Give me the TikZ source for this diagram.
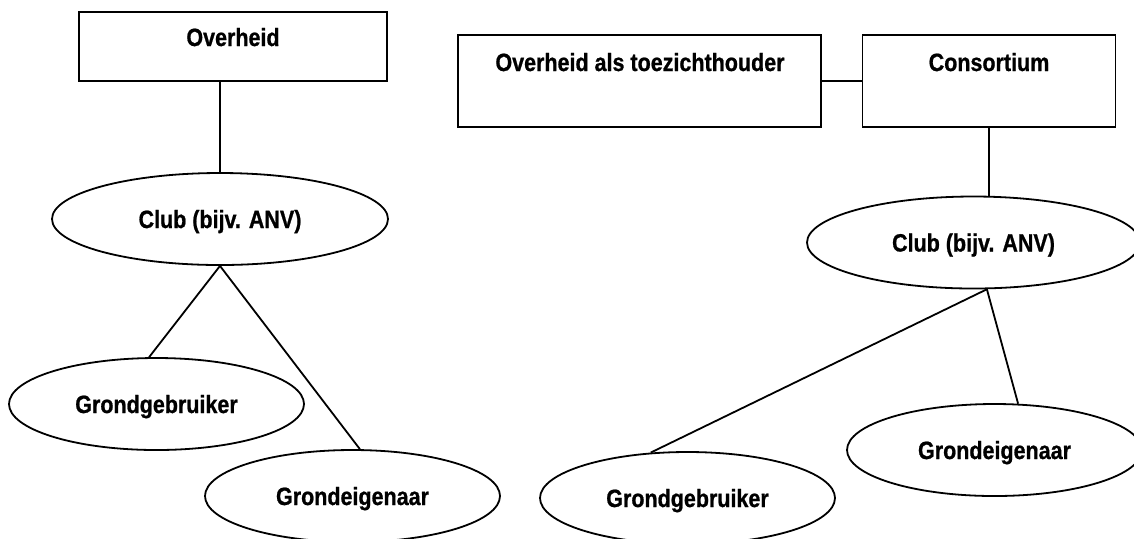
\documentclass[tikz,border=0pt]{standalone}
\usepackage{fontspec}
\setmainfont{Liberation Sans}[FakeStretch=0.86, BoldFeatures={FakeBold=0.8}]
\usetikzlibrary{shapes.geometric}
\begin{document}
\begin{tikzpicture}[x=0.5pt,y=-0.5pt,
  box/.style={draw, line width=0.9pt, rectangle, inner sep=0pt, minimum height=46pt},
  oval/.style={draw, line width=0.9pt, ellipse, inner sep=0pt, minimum height=46pt, minimum width=147.5pt, font=\fontsize{12.5pt}{15pt}\bfseries, text height=9pt, text depth=0pt},
  lbl/.style={font=\fontsize{12.5pt}{15pt}\bfseries, inner sep=0pt, anchor=base},
  link/.style={line width=0.9pt}]
\useasboundingbox (0,0) rectangle (1134,538);
% left diagram
\node[box, minimum width=154pt, minimum height=34.5pt] (ov) at (233,46.5) {};
\node[lbl] (ovtxt) at (233,46) {Overheid};
\node[oval, minimum width=168pt] (club1) at (220,219) {Club (bijv. ANV)};
\node[oval] (gg1) at (156.5,404) {Grondgebruiker};
\node[oval] (ge1) at (352.5,496) {Grondeigenaar};
\draw[link] (club1.north) -- (club1.north |- ov.south);
\draw[link] (club1.south) -- (gg1.99);
\draw[link] (club1.south) -- (ge1.81);
% right diagram
\node[box, minimum width=181.5pt] (ovt) at (639.5,81) {};
\node[lbl] (ovttxt) at (640,71) {Overheid als toezichthouder};
\node[box, minimum width=126.5pt] (cons) at (989,81) {};
\node[lbl] (constxt) at (989,71) {Consortium};
\node[oval, minimum width=166.5pt] (club2) at (973.5,242.5) {Club (bijv. ANV)};
\node[oval] (ge2) at (994.5,450) {Grondeigenaar};
\node[oval] (gg2) at (687.5,498) {Grondgebruiker};
\draw[link] (ovt.east) -- (cons.west);
\draw[link] (cons.south) -- (cons.south |- club2.north);
\draw[link] (club2.-74) -- (gg2.129);
\draw[link] (club2.-74) -- (ge2.63);
\end{tikzpicture}
\end{document}
